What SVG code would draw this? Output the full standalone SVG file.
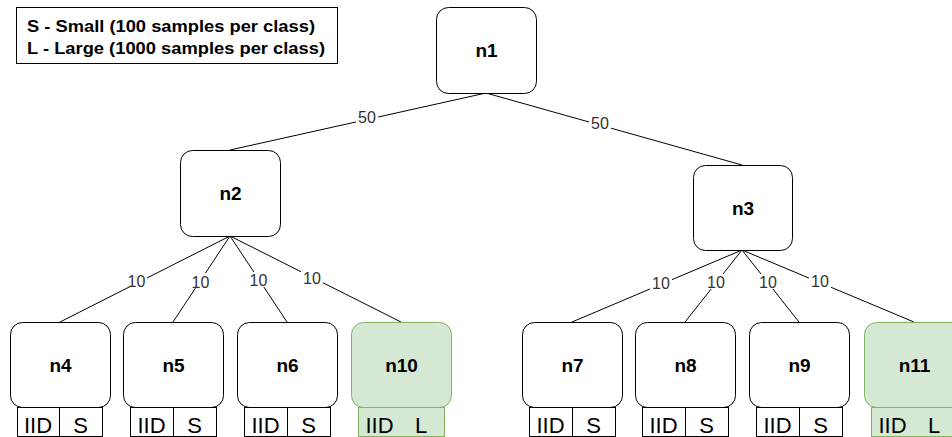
<svg xmlns="http://www.w3.org/2000/svg" width="952" height="437" viewBox="0 0 952 437">
<style>
.node{fill:#ffffff;stroke:#000000;stroke-width:1}
.green{fill:#d5e8d4;stroke:#82b366;stroke-width:1}
.lbl{font-family:"Liberation Sans",Arial,sans-serif;font-size:19px;font-weight:bold;fill:#000;text-anchor:middle}
.cell{font-family:"Liberation Sans",Arial,sans-serif;font-size:22px;fill:#000;text-anchor:middle}
.elbl{font-family:"Liberation Sans",Arial,sans-serif;font-size:16px;fill:#333;text-anchor:middle}
.edge{stroke:#000;stroke-width:1;fill:none}
.bg{fill:#ffffff}
.leg{font-family:"Liberation Sans",Arial,sans-serif;font-size:17px;font-weight:bold;fill:#000}
</style>
<rect width="952" height="437" fill="#ffffff"/>
<g id="legend">
<rect x="16.5" y="7.5" width="321" height="56" fill="#fff" stroke="#000"/>
<text class="leg" x="27" y="32" textLength="288" lengthAdjust="spacingAndGlyphs">S - Small (100 samples per class)</text>
<text class="leg" x="27" y="54" textLength="298" lengthAdjust="spacingAndGlyphs">L - Large (1000 samples per class)</text>
</g>
<g id="connectors">
<path class="edge" d="M486,93 L230,150"/>
<path class="edge" d="M486,93 L742,165"/>
<path class="edge" d="M230,236 L60,322"/>
<path class="edge" d="M230,236 L173,322"/>
<path class="edge" d="M230,236 L287,322"/>
<path class="edge" d="M230,236 L401,322"/>
<path class="edge" d="M742,250 L572,322"/>
<path class="edge" d="M742,250 L685,322"/>
<path class="edge" d="M742,250 L799,322"/>
<path class="edge" d="M742,250 L914,322"/>
<rect class="bg" x="356" y="110" width="22" height="15"/>
<text class="elbl" x="367" y="123">50</text>
<rect class="bg" x="589" y="116" width="22" height="15"/>
<text class="elbl" x="600" y="129">50</text>
<rect class="bg" x="126" y="272" width="21" height="15"/>
<text class="elbl" x="136.5" y="287">10</text>
<rect class="bg" x="190" y="273" width="21" height="15"/>
<text class="elbl" x="200.5" y="288">10</text>
<rect class="bg" x="248" y="272" width="21" height="15"/>
<text class="elbl" x="258.5" y="286">10</text>
<rect class="bg" x="301" y="269" width="22" height="15"/>
<text class="elbl" x="312" y="284">10</text>
<rect class="bg" x="650" y="275" width="22" height="15"/>
<text class="elbl" x="661" y="289">10</text>
<rect class="bg" x="705" y="274" width="22" height="15"/>
<text class="elbl" x="716" y="288">10</text>
<rect class="bg" x="757" y="274" width="22" height="15"/>
<text class="elbl" x="768" y="288">10</text>
<rect class="bg" x="809" y="273" width="22" height="15"/>
<text class="elbl" x="820" y="287">10</text>
</g>
<g id="n1"><rect class="node" x="436.5" y="7.5" width="100" height="86" rx="12"/><text class="lbl" x="486.5" y="57">n1</text></g>
<g id="n2"><rect class="node" x="180.5" y="150.5" width="100" height="86" rx="12"/><text class="lbl" x="230.5" y="200">n2</text></g>
<g id="n3"><rect class="node" x="693.5" y="165.5" width="99" height="85" rx="12"/><text class="lbl" x="743" y="215">n3</text></g>

<g id="n4"><rect class="node" x="10.5" y="322.5" width="100" height="85" rx="12"/><text class="lbl" x="60.5" y="372">n4</text>
<rect class="node" x="17.5" y="407.5" width="42" height="29"/><rect class="node" x="59.5" y="407.5" width="43" height="29"/>
<text class="cell" x="38" y="433">IID</text><text class="cell" x="80.5" y="433">S</text></g>
<g id="n5"><rect class="node" x="123.5" y="322.5" width="100" height="85" rx="12"/><text class="lbl" x="173.5" y="372">n5</text>
<rect class="node" x="130.5" y="407.5" width="43" height="29"/><rect class="node" x="173.5" y="407.5" width="43" height="29"/>
<text class="cell" x="151.5" y="433">IID</text><text class="cell" x="194.5" y="433">S</text></g>
<g id="n6"><rect class="node" x="237.5" y="322.5" width="100" height="85" rx="12"/><text class="lbl" x="287.5" y="372">n6</text>
<rect class="node" x="244.5" y="407.5" width="43" height="29"/><rect class="node" x="287.5" y="407.5" width="43" height="29"/>
<text class="cell" x="265.5" y="433">IID</text><text class="cell" x="308.5" y="433">S</text></g>
<g id="n10"><rect class="green" x="351.5" y="322.5" width="100" height="85" rx="12"/><text class="lbl" x="401.5" y="372">n10</text>
<rect class="green" x="358.5" y="407.5" width="86" height="29"/>
<text class="cell" x="379.5" y="433">IID</text><text class="cell" x="421" y="433">L</text></g>

<g id="n7"><rect class="node" x="522.5" y="322.5" width="100" height="85" rx="12"/><text class="lbl" x="572.5" y="372">n7</text>
<rect class="node" x="529.5" y="407.5" width="43" height="29"/><rect class="node" x="572.5" y="407.5" width="43" height="29"/>
<text class="cell" x="550.5" y="433">IID</text><text class="cell" x="593.5" y="433">S</text></g>
<g id="n8"><rect class="node" x="635.5" y="322.5" width="100" height="85" rx="12"/><text class="lbl" x="685.5" y="372">n8</text>
<rect class="node" x="642.5" y="407.5" width="43" height="29"/><rect class="node" x="685.5" y="407.5" width="43" height="29"/>
<text class="cell" x="663.5" y="433">IID</text><text class="cell" x="706.5" y="433">S</text></g>
<g id="n9"><rect class="node" x="749.5" y="322.5" width="100" height="85" rx="12"/><text class="lbl" x="799.5" y="372">n9</text>
<rect class="node" x="756.5" y="407.5" width="43" height="29"/><rect class="node" x="799.5" y="407.5" width="43" height="29"/>
<text class="cell" x="777.5" y="433">IID</text><text class="cell" x="820.5" y="433">S</text></g>
<g id="n11"><rect class="green" x="864.5" y="322.5" width="100" height="85" rx="12"/><text class="lbl" x="914.5" y="372">n11</text>
<rect class="green" x="871.5" y="407.5" width="86" height="29"/>
<text class="cell" x="892.5" y="433">IID</text><text class="cell" x="934" y="433">L</text></g>
</svg>
